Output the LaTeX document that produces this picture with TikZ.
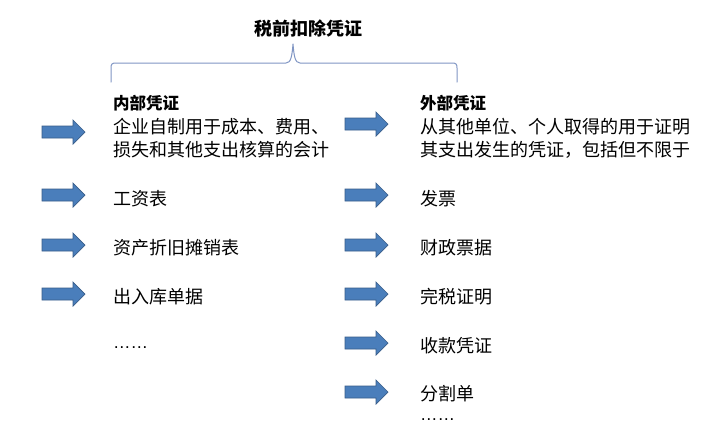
\documentclass[tikz,border=0pt]{standalone}
\usepackage{fontspec}
\setmainfont{Noto Sans CJK SC}
\newfontfamily\latinfont{Liberation Sans}
\definecolor{arrowfill}{RGB}{74,126,187}
\definecolor{arrowedge}{RGB}{56,93,138}
\definecolor{bracecol}{RGB}{128,150,196}
\begin{document}
\begin{tikzpicture}[x=1pt,y=-1pt,
  txt/.style={anchor=west,inner sep=0pt,text height=0.88em,text depth=0.12em,font=\fontsize{18}{22}\selectfont},
  head/.style={txt,font=\fontsize{16.5}{20}\selectfont\bfseries},
  dots/.style={anchor=base west,inner sep=0pt,font=\fontsize{17.5}{20}\latinfont},
  blockarrow/.style={fill=arrowfill,draw=arrowedge,line width=0.7pt,line join=miter},
  bracestyle/.style={draw=bracecol,line width=1pt}]
\useasboundingbox (0,0) rectangle (710,424);
\fill[white] (0,0) rectangle (710,424);
\newcommand{\blockarr}[2]{\filldraw[blockarrow] (#1-21,#2-6) -- (#1+10,#2-6) -- (#1+10,#2-12) -- (#1+22,#2) -- (#1+10,#2+12) -- (#1+10,#2+6) -- (#1-21,#2+6) -- cycle;}
% title
\node[txt,anchor=center,font=\fontsize{18}{22}\selectfont\bfseries] (title) at (308,32) {税前扣除凭证};
% brace
\draw[bracestyle,line cap=round,line join=round]
  (111,82) -- (111,68) .. controls (111,64) and (112,63) .. (116,63)
  -- (286,63) .. controls (291,63) and (292,56) .. (293,44)
  .. controls (294,56) and (295,63) .. (300,63)
  -- (452,63) .. controls (456,63) and (457,64) .. (457,68) -- (457,82);
% left column
\node[head] (inner) at (113,106) {内部凭证};
\node[txt] (innerd1) at (113,130) {企业自制用于成本、费用、};
\node[txt] (innerd2) at (113,153) {损失和其他支出核算的会计};
\node[txt] (l1) at (113,202) {工资表};
\node[txt] (l2) at (113,251) {资产折旧摊销表};
\node[txt] (l3) at (113,300) {出入库单据};
\node[dots] (l4) at (113,348) {……};
% right column
\node[head] (outer) at (420,106) {外部凭证};
\node[txt] (outerd1) at (420,130) {从其他单位、个人取得的用于证明};
\node[txt] (outerd2) at (420,153) {其支出发生的凭证，包括但不限于};
\node[txt] (r1) at (420,202) {发票};
\node[txt] (r2) at (420,251) {财政票据};
\node[txt] (r3) at (420,300) {完税证明};
\node[txt] (r4) at (420,349) {收款凭证};
\node[txt] (r5) at (420,397) {分割单};
\node[dots] (r6) at (420,420) {……};
% arrows
\blockarr{63}{132}
\blockarr{63}{195}
\blockarr{63}{245}
\blockarr{63}{294}
\blockarr{366}{124}
\blockarr{366}{195}
\blockarr{366}{245}
\blockarr{366}{294}
\blockarr{366}{343}
\blockarr{366}{392}
\end{tikzpicture}
\end{document}
